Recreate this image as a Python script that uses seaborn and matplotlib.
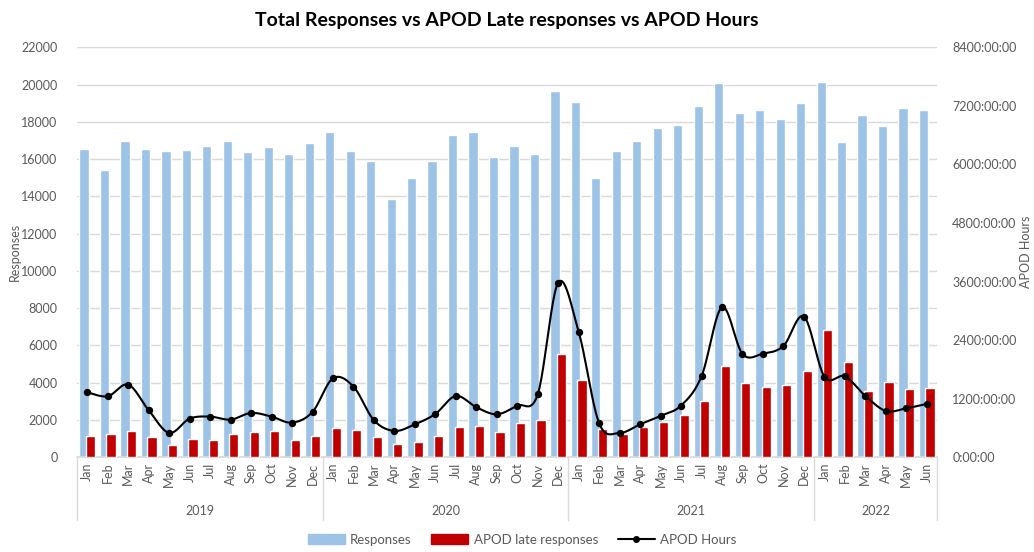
import numpy as np
import pandas as pd
import matplotlib
matplotlib.use("Agg")
import matplotlib.pyplot as plt
import matplotlib.transforms as mtransforms
from matplotlib.patches import Patch
from matplotlib.lines import Line2D
import seaborn as sns

# --- Data ---
months = ["Jan", "Feb", "Mar", "Apr", "May", "Jun",
          "Jul", "Aug", "Sep", "Oct", "Nov", "Dec"]
years = ["2019", "2020", "2021", "2022"]
month_labels = months * 3 + months[:6]

responses = [16530, 15420, 16980, 16550, 16420, 16490, 16690, 16980, 16390, 16640, 16280, 16890,
             17440, 16420, 15920, 13850, 15010, 15920, 17300, 17440, 16120, 16730, 16280, 19660,
             19070, 14960, 16420, 16980, 17690, 17840, 18860, 20070, 18500, 18610, 18140, 19020,
             20130, 16920, 18350, 17780, 18750, 18640]

late_responses = [1150, 1250, 1410, 1070, 640, 970, 910, 1250, 1360, 1410, 910, 1150,
                  1570, 1470, 1070, 720, 800, 1160, 1630, 1680, 1380, 1820, 1990, 5560,
                  4150, 1520, 1270, 1630, 1910, 2270, 3020, 4900, 4010, 3790, 3880, 4650,
                  6830, 5120, 3580, 4040, 3690, 3740]

apod_hours = [1332, 1250, 1489, 963, 499, 792, 833, 772, 908, 833, 710, 929,
              1619, 1448, 758, 540, 676, 888, 1257, 1025, 881, 1059, 1291, 3579,
              2568, 697, 499, 676, 847, 1059, 1660, 3074, 2117, 2124, 2281, 2883,
              1653, 1660, 1257, 949, 1004, 1093]

BLUE = "#9DC3E6"
RED = "#C00000"
GRAY = "#595959"

# --- Style ---
sns.set_theme(style="white")
plt.rcParams["font.family"] = ["Lato", "DejaVu Sans"]

idx = np.arange(len(responses))
df = pd.DataFrame({"pos": idx, "responses": responses,
                   "late": late_responses, "hours": apod_hours})


def smooth_curve(x, y, n=24):
    """Catmull-Rom style smoothing like Excel's smoothed line."""
    x = np.asarray(x, float)
    y = np.asarray(y, float)
    px = np.concatenate([[x[0]], x, [x[-1]]])
    py = np.concatenate([[y[0]], y, [y[-1]]])
    xs, ys = [], []
    t = np.linspace(0, 1, n)
    for i in range(1, len(px) - 2):
        for arr, out in ((px, xs), (py, ys)):
            p0, p1, p2, p3 = arr[i - 1], arr[i], arr[i + 1], arr[i + 2]
            seg = 0.5 * ((2 * p1) + (-p0 + p2) * t
                         + (2 * p0 - 5 * p1 + 4 * p2 - p3) * t ** 2
                         + (-p0 + 3 * p1 - 3 * p2 + p3) * t ** 3)
            out.extend(seg)
    return np.array(xs), np.array(ys)


fig = plt.figure(figsize=(10.34, 5.52), dpi=100)
ax = fig.add_axes([0.0745, 0.1716, 0.8317, 0.7427])

sns.barplot(x=df["pos"] - 0.16, y=df["responses"], native_scale=True, orient="x",
            width=0.45, color=BLUE, saturation=1, errorbar=None, ax=ax, zorder=2)
sns.barplot(x=df["pos"] + 0.16, y=df["late"], native_scale=True, orient="x",
            width=0.45, color=RED, saturation=1, errorbar=None, ax=ax, zorder=3)

ax.set_ylim(0, 22000)
ax.set_yticks(np.arange(0, 22001, 2000))
ax.set_xlim(-0.5, len(idx) - 0.5)
ax.yaxis.grid(True, color="#D9D9D9", linewidth=1)
ax.set_axisbelow(True)
for s in ["top", "right", "left"]:
    ax.spines[s].set_visible(False)
ax.spines["bottom"].set_color("#D9D9D9")
ax.set_xticks(idx)
ax.set_xticklabels(month_labels, rotation=90, fontsize=9, color=GRAY)
ax.tick_params(axis="x", length=0, pad=4)
ax.tick_params(axis="y", length=0, labelsize=9, labelcolor=GRAY, pad=14)
ax.set_xlabel("")
ax.set_ylabel("Responses", fontsize=9, color=GRAY)
ax.yaxis.set_label_coords(-0.065, 0.5)

# --- Secondary axis: APOD Hours ---
ax2 = ax.twinx()
sx, sy = smooth_curve(df["pos"], df["hours"])
ax2.plot(sx, sy, color="black", linewidth=1.5, zorder=4)
sns.scatterplot(data=df, x="pos", y="hours", color="black", s=28,
                edgecolor="black", linewidth=0, ax=ax2, zorder=5)
ax2.set_ylim(0, 8400)
hour_ticks = np.arange(0, 8401, 1200)
ax2.set_yticks(hour_ticks)
ax2.set_yticklabels([f"{h}:00:00" for h in hour_ticks])
ax2.tick_params(axis="y", length=0, labelsize=9, labelcolor=GRAY, pad=11)
ax2.set_ylabel("APOD Hours", fontsize=9, color=GRAY)
ax2.yaxis.set_label_coords(1.097, 0.5)
ax2.set_xlabel("")
ax2.set_xlim(-0.5, len(idx) - 0.5)
for s in ax2.spines.values():
    s.set_visible(False)

# --- Year grouping below the month labels ---
trans = mtransforms.blended_transform_factory(ax.transData, ax.transAxes)
bounds = [-0.5, 11.5, 23.5, 35.5, len(idx) - 0.5]
for b in bounds:
    ax.plot([b, b], [0, -0.153], transform=trans, color="#D9D9D9",
            linewidth=1, clip_on=False)
for i, yr in enumerate(years):
    ax.text((bounds[i] + bounds[i + 1]) / 2, -0.131, yr, transform=trans,
            ha="center", va="center", fontsize=9, color=GRAY)

ax.set_title("Total Responses vs APOD Late responses vs APOD Hours",
             fontsize=14, fontweight="bold", color="black", pad=15)

handles = [Patch(color=BLUE, label="Responses"),
           Patch(color=RED, label="APOD late responses"),
           Line2D([0], [0], color="black", marker="o", markersize=4,
                  linewidth=1.5, label="APOD Hours")]
fig.legend(handles=handles, loc="lower center", ncol=3, frameon=False,
           fontsize=9.5, bbox_to_anchor=(0.505, -0.01), handlelength=2.8,
           handletextpad=0.4, columnspacing=1.5, labelcolor=GRAY)

fig.savefig("out.png", dpi=100)
